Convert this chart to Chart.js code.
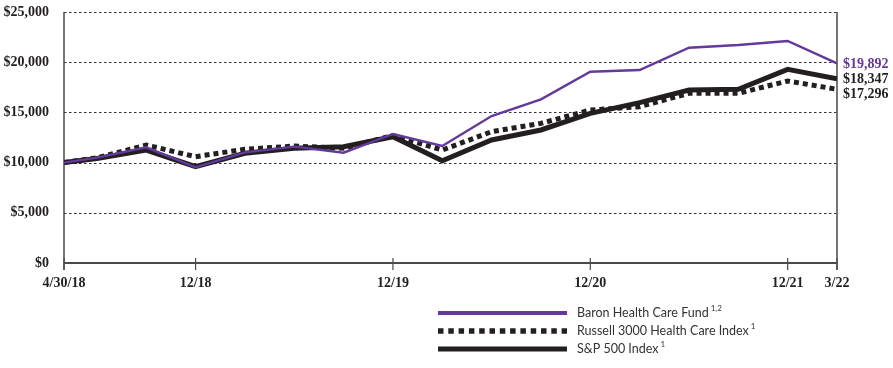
<!DOCTYPE html>
<html>
<head>
<meta charset="utf-8">
<script src="https://cdn.jsdelivr.net/npm/chart.js@4/dist/chart.umd.min.js"></script>
<style>
  html, body { margin: 0; padding: 0; background: #ffffff; }
  #wrap { width: 893px; height: 368px; position: relative; }
</style>
</head>
<body>
<div id="wrap"><canvas id="growth" width="893" height="368"></canvas></div>
<script>
// Hypothetical $10,000 investment, months elapsed since 4/30/18 (quarter ends)
const months = [0, 2, 5, 8, 11, 14, 17, 20, 23, 26, 29, 32, 35, 38, 41, 44, 47];
const baronFund = [10000, 10500, 11520, 9530, 11020, 11590, 10990, 12850, 11650, 14640, 16300, 19050, 19220, 21440, 21710, 22110, 19892];
const russell3000HC = [10000, 10480, 11750, 10590, 11330, 11650, 11420, 12700, 11250, 13080, 13910, 15240, 15570, 16900, 16900, 18130, 17296];
const sp500 = [10000, 10400, 11250, 9600, 10930, 11420, 11590, 12580, 10190, 12250, 13250, 14910, 15970, 17230, 17300, 19290, 18347];

const tickMonths = [0, 8, 20, 32, 44, 47];
const tickLabels = ['4/30/18', '12/18', '12/19', '12/20', '12/21', '3/22'];
const yTicks = [0, 5000, 10000, 15000, 20000, 25000];

const seriesNames = ['Baron Health Care Fund', 'Russell 3000 Health Care Index', 'S&P 500 Index'];
const seriesNotes = ['1,2', '1', '1'];

const PURPLE = '#63399b';
const INK = '#231f20';
const SERIF = '"Liberation Serif", "Times New Roman", serif';

const toPoints = vals => vals.map((v, i) => ({ x: months[i], y: v }));
const money = v => '$' + v.toLocaleString('en-US');

const decorations = {
  id: 'decorations',
  beforeDatasetsDraw(chart) {
    const { ctx, chartArea: a, scales: { x, y } } = chart;
    ctx.save();
    // dotted horizontal guides
    ctx.strokeStyle = '#333';
    ctx.lineWidth = 1;
    ctx.setLineDash([2.5, 2.5]);
    yTicks.forEach(v => {
      if (v === 0) return;
      const py = Math.round(y.getPixelForValue(v)) + 0.5;
      ctx.beginPath(); ctx.moveTo(a.left, py); ctx.lineTo(a.right, py); ctx.stroke();
    });
    ctx.setLineDash([]);
    // axes
    const y0 = y.getPixelForValue(0);
    ctx.strokeStyle = '#4a4a4a';
    ctx.lineWidth = 1.5;
    ctx.beginPath(); ctx.moveTo(a.left, a.top); ctx.lineTo(a.left, y0 + 7); ctx.stroke();
    ctx.beginPath(); ctx.moveTo(a.right, a.top); ctx.lineTo(a.right, y0 + 7); ctx.stroke();
    ctx.lineWidth = 2;
    ctx.beginPath(); ctx.moveTo(a.left, y0); ctx.lineTo(a.right, y0); ctx.stroke();
    ctx.lineWidth = 1.2;
    tickMonths.forEach(m => {
      const px = x.getPixelForValue(m);
      ctx.beginPath(); ctx.moveTo(px, y0 - 5); ctx.lineTo(px, y0 + 7); ctx.stroke();
    });
    ctx.restore();
  },
  afterDraw(chart) {
    const { ctx, chartArea: a, scales: { y } } = chart;
    ctx.save();
    // closing values at the right edge
    const ends = [
      { v: baronFund[baronFund.length - 1], c: PURPLE },
      { v: sp500[sp500.length - 1], c: INK },
      { v: russell3000HC[russell3000HC.length - 1], c: INK }
    ];
    ctx.font = 'bold 14px ' + SERIF;
    ctx.textBaseline = 'middle';
    ctx.textAlign = 'left';
    let prev = -Infinity;
    ends.forEach(e => {
      let py = y.getPixelForValue(e.v);
      if (py < prev + 15) py = prev + 15;
      prev = py;
      ctx.fillStyle = e.c;
      ctx.fillText(money(e.v), a.right + 6, py + 1);
    });

    // legend
    const lx0 = 438, lx1 = 567, tx = 577;
    const rows = [313, 331, 349];
    const styles = [
      { c: PURPLE, w: 4, dash: [] },
      { c: INK, w: 5.5, dash: [5.5, 4.8] },
      { c: INK, w: 5, dash: [] }
    ];
    rows.forEach((ry, i) => {
      const s = styles[i];
      ctx.strokeStyle = s.c;
      ctx.lineWidth = s.w;
      ctx.setLineDash(s.dash);
      ctx.beginPath(); ctx.moveTo(lx0, ry); ctx.lineTo(lx1, ry); ctx.stroke();
      ctx.setLineDash([]);
      ctx.fillStyle = '#333';
      ctx.font = '12.5px Lato, "Open Sans", sans-serif';
      ctx.textBaseline = 'middle';
      ctx.fillText(seriesNames[i], tx, ry);
      const w = ctx.measureText(seriesNames[i]).width;
      ctx.font = '8px Lato, "Open Sans", sans-serif';
      ctx.fillText(seriesNotes[i], tx + w + 2, ry - 5);
    });
    ctx.restore();
  }
};

new Chart(document.getElementById('growth'), {
  type: 'line',
  data: {
    datasets: [
      { label: seriesNames[0], data: toPoints(baronFund), borderColor: PURPLE, borderWidth: 2.4, order: 0 },
      { label: seriesNames[2], data: toPoints(sp500), borderColor: INK, borderWidth: 5, order: 1 },
      { label: seriesNames[1], data: toPoints(russell3000HC), borderColor: INK, borderWidth: 5, borderDash: [5, 4], borderCapStyle: 'butt', order: 2 }
    ]
  },
  options: {
    responsive: false,
    animation: false,
    devicePixelRatio: 1,
    layout: { padding: { left: 0, right: 56, top: 12, bottom: 0 } },
    elements: { point: { radius: 0 }, line: { tension: 0, fill: false } },
    plugins: { legend: { display: false }, tooltip: { enabled: false } },
    scales: {
      x: {
        type: 'linear',
        min: 0, max: 47,
        afterBuildTicks: s => { s.ticks = tickMonths.map(v => ({ value: v })); },
        afterFit: s => { s.height = 105; s.paddingLeft = 0; s.paddingRight = 0; },
        grid: { display: false },
        border: { display: false },
        ticks: {
          autoSkip: false, maxRotation: 0, padding: 4,
          color: INK,
          font: { family: SERIF, size: 14, weight: 'bold' },
          callback: v => tickLabels[tickMonths.indexOf(v)]
        }
      },
      y: {
        min: 0, max: 25000,
        afterBuildTicks: s => { s.ticks = yTicks.map(v => ({ value: v })); },
        afterFit: s => { s.width = 64; s.paddingTop = 0; s.paddingBottom = 0; },
        grid: { display: false },
        border: { display: false },
        ticks: {
          padding: 7,
          color: INK,
          font: { family: SERIF, size: 14, weight: 'bold' },
          callback: v => money(v)
        }
      }
    }
  },
  plugins: [decorations]
});
</script>
</body>
</html>
